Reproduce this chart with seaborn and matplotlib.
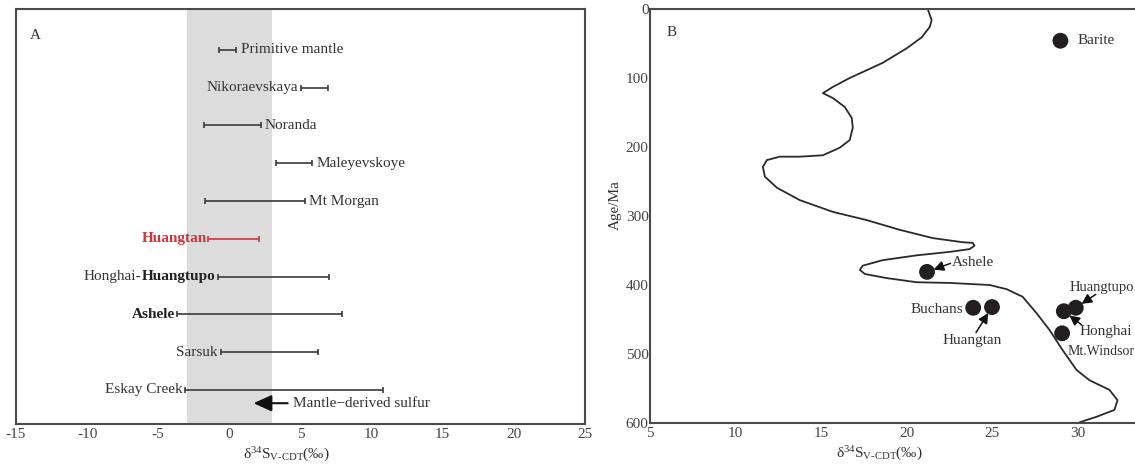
import matplotlib
matplotlib.use("Agg")
import numpy as np
import pandas as pd
import seaborn as sns
import matplotlib.pyplot as plt

# ---------------- Panel A data ----------------
sites = ["Primitive mantle", "Nikoraevskaya", "Noranda", "Maleyevskoye", "Mt Morgan",
         "Huangtan", "Honghai-Huangtupo", "Ashele", "Sarsuk", "Eskay Creek"]
s34_low = [-0.7, 5.0, -1.8, 3.3, -1.7, -1.5, -0.8, -3.7, -0.6, -3.1]
s34_high = [0.5, 6.9, 2.2, 5.8, 5.3, 2.1, 7.0, 7.9, 6.2, 10.8]
label_side = ["right", "left", "right", "right", "right",
              "left", "left", "left", "left", "left"]
mantle_band = [-3, 3]
mantle_arrow = [4.1, 1.7]          # tail, head (per mil)
xticks_a = [-15, -10, -5, 0, 5, 10, 15, 20, 25]

# ---------------- Panel B data ----------------
curve_x = [21.24, 21.47, 21.36, 20.89, 20.01, 18.61, 16.68, 15.69, 15.11, 15.69,
           16.39, 16.80, 16.86, 16.68, 16.10, 15.11, 13.76, 12.59, 11.83, 11.60,
           11.72, 12.42, 13.76, 15.69, 17.68, 19.60, 21.53, 23.28, 23.87, 23.98,
           23.69, 22.52, 20.60, 18.61, 17.44, 17.27, 17.56, 18.84, 20.60, 22.52,
           24.86, 25.85, 26.79, 27.61, 28.36, 29.12, 29.94, 30.70, 31.87, 32.34,
           32.16, 31.11, 30.12]
curve_age = [0, 16, 26, 41, 57, 78, 100, 113, 122, 129,
             142, 158, 172, 190, 201, 212, 214, 214, 219, 229,
             243, 259, 277, 294, 306, 320, 332, 338, 339, 343,
             348, 352, 357, 364, 372, 378, 384, 390, 396, 397,
             400, 406, 417, 441, 465, 494, 523, 538, 552, 567,
             581, 591, 599]
deposits = ["Barite", "Ashele", "Buchans", "Huangtan", "Huangtupo", "Honghai", "Mt.Windsor"]
dep_s34 = [29.0, 21.2, 23.9, 25.0, 29.9, 29.2, 29.1]
dep_age = [46, 381, 433, 432, 433, 438, 470]
xticks_b = [5, 10, 15, 20, 25, 30]
yticks_b = [0, 100, 200, 300, 400, 500, 600]

# ---------------- style ----------------
sns.set_theme(style="white")
plt.rcParams["font.family"] = ["Liberation Serif", "DejaVu Serif"]
plt.rcParams["mathtext.fontset"] = "custom"
plt.rcParams["mathtext.rm"] = "Liberation Serif"
plt.rcParams["mathtext.it"] = "Liberation Serif:italic"
plt.rcParams["axes.unicode_minus"] = False

SPINE = "#4a4a4a"
TXT = "#333333"
FS = 11

fig = plt.figure(figsize=(11.35, 4.65), dpi=100)
fig.patch.set_facecolor("white")
axA = fig.add_axes([16 / 1135, 1 - 424 / 465, 569 / 1135, 415 / 465])
axB = fig.add_axes([650 / 1135, 1 - 423 / 465, 513 / 1135, 414 / 465])

for ax in (axA, axB):
    ax.set_facecolor("white")
    for sp in ax.spines.values():
        sp.set_color(SPINE)
        sp.set_linewidth(1.5)
    ax.tick_params(direction="in", length=7, width=1.4, color=SPINE,
                   labelsize=FS, labelcolor="#444444", pad=3)

xlabel = "δ$^{\\mathregular{34}}$S$_{\\mathregular{V\u2010CDT}}$(‰)"

# ---------------- Panel A ----------------
dfA = pd.DataFrame({"site": sites, "low": s34_low, "high": s34_high, "side": label_side})
dfA["y"] = np.arange(1, len(dfA) + 1)
axA.axvspan(mantle_band[0], mantle_band[1], color="#dcdcdc", zorder=0, lw=0)
for _, r in dfA.iterrows():
    col = "#d0343c" if r.site == "Huangtan" else "#3a3a3a"
    mid = (r.low + r.high) / 2
    axA.errorbar(mid, r.y, xerr=[[mid - r.low], [r.high - mid]], fmt="none",
                 ecolor=col, elinewidth=1.2, capsize=2.5, capthick=1.2, zorder=3)
    if r.side == "right":
        axA.annotate(r.site, xy=(r.high, r.y), xytext=(3, 0), textcoords="offset points",
                     ha="left", va="center", fontsize=FS, color=TXT)
    else:
        if r.site == "Huangtan":
            axA.annotate(r.site, xy=(r.low, r.y), xytext=(-1, 0), textcoords="offset points",
                         ha="right", va="center", fontsize=FS, color="#d0343c",
                         fontweight="bold")
        elif r.site == "Ashele":
            axA.annotate(r.site, xy=(r.low, r.y), xytext=(-1, 0), textcoords="offset points",
                         ha="right", va="center", fontsize=FS, color="#222222",
                         fontweight="bold")
        elif r.site == "Honghai-Huangtupo":
            a, b = r.site.split("-")
            t1 = axA.annotate(b, xy=(r.low, r.y), xytext=(-2, 0), textcoords="offset points",
                              ha="right", va="center", fontsize=FS, color="#222222",
                              fontweight="bold")
            axA.annotate(a + "-", xy=(0, 0), xycoords=t1, ha="right", va="bottom",
                         fontsize=FS, color=TXT)
        else:
            axA.annotate(r.site, xy=(r.low, r.y), xytext=(-2, 0), textcoords="offset points",
                         ha="right", va="center", fontsize=FS, color=TXT)

arrow_y = len(sites) + 0.35
axA.annotate("", xy=(mantle_arrow[1], arrow_y), xytext=(mantle_arrow[0], arrow_y),
             arrowprops=dict(arrowstyle="-|>,head_length=1.1,head_width=0.5",
                             color="#111111", lw=1.5, shrinkA=0, shrinkB=0,
                             mutation_scale=10))
axA.annotate("Mantle\u2212derived sulfur", xy=(mantle_arrow[0], arrow_y), xytext=(4, 0),
             textcoords="offset points", ha="left", va="center", fontsize=FS, color=TXT)

axA.set_xlim(-15, 25)
axA.set_ylim(10.9, -0.08)
axA.set_xticks(xticks_a)
axA.set_xticklabels([str(t) for t in xticks_a])
axA.set_yticks([])
axA.set_xlabel(xlabel, fontsize=FS, color=TXT)
axA.xaxis.set_label_coords(0.476, -0.075)
axA.xaxis.label.set_va("center")
axA.set_ylabel("")
axA.text(0.025, 0.935, "A", transform=axA.transAxes, fontsize=FS, color=TXT,
         ha="left", va="center")

# ---------------- Panel B ----------------
dfC = pd.DataFrame({"s34": curve_x, "age": curve_age})
sns.lineplot(data=dfC, x="s34", y="age", sort=False, estimator=None,
             color="#2a2a2a", lw=1.3, ax=axB)
dfD = pd.DataFrame({"deposit": deposits, "s34": dep_s34, "age": dep_age})
sns.scatterplot(data=dfD, x="s34", y="age", s=130, color="#231f20",
                edgecolor="none", ax=axB, zorder=4)

# label position (s34, age), alignment, arrow start (relative to text box), font size
label_pos = {
    "Barite": ((30.0, 46), "left", None, FS),
    "Ashele": ((22.65, 368), "left", (0.0, 0.5), FS),
    "Buchans": ((23.3, 436), "right", None, FS),
    "Huangtan": ((23.85, 480), "center", (0.55, 1.0), FS),
    "Huangtupo": ((29.55, 403), "left", (0.42, 0.0), 10.5),
    "Honghai": ((30.1, 468), "left", (0.06, 1.0), FS),
    "Mt.Windsor": ((29.4, 497), "left", None, 10),
}
for _, r in dfD.iterrows():
    (tx, ty), ha, rel, fs = label_pos[r.deposit]
    if rel is None:
        axB.annotate(r.deposit, xy=(tx, ty), ha=ha, va="center", fontsize=fs, color=TXT)
    else:
        axB.annotate(r.deposit, xy=(r.s34, r.age), xytext=(tx, ty), ha=ha, va="center",
                     fontsize=fs, color=TXT,
                     arrowprops=dict(arrowstyle="-|>,head_length=0.6,head_width=0.3",
                                     color="#111111", lw=1.1, shrinkA=1, shrinkB=5,
                                     patchA=None, mutation_scale=10, relpos=rel))

axB.set_xlim(5, 35)
axB.set_ylim(600, 0)
axB.set_xticks(xticks_b)
axB.set_xticklabels([str(t) for t in xticks_b])
axB.set_yticks(yticks_b)
axB.set_yticklabels([str(t) for t in yticks_b])
axB.tick_params(axis="y", pad=1)
axB.set_xlabel(xlabel, fontsize=FS, color=TXT)
axB.xaxis.set_label_coords(0.448, -0.075)
axB.xaxis.label.set_va("center")
axB.set_ylabel("Age/Ma", fontsize=FS, color=TXT)
axB.yaxis.set_label_coords(-0.068, 0.527)
axB.yaxis.label.set_va("center")
axB.text(0.033, 0.944, "B", transform=axB.transAxes, fontsize=FS, color=TXT,
         ha="left", va="center")

fig.savefig("out.png", dpi=100, facecolor="white")
